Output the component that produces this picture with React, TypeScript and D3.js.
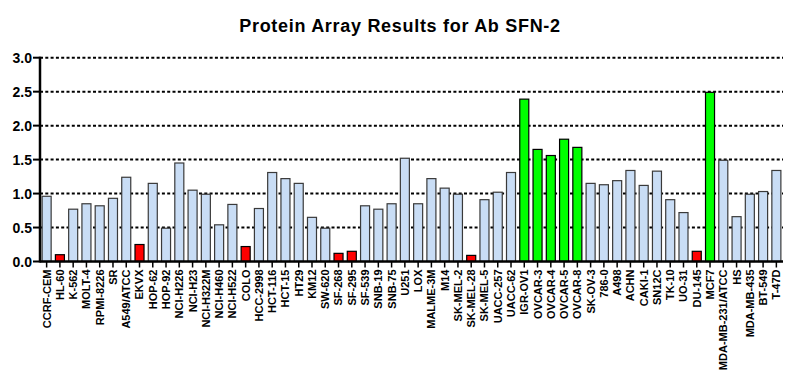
import * as React from "react";
import * as d3 from "d3";

// cell lines, left to right
const cellLines = [
  "CCRF-CEM", "HL-60", "K-562", "MOLT-4", "RPMI-8226", "SR", "A549/ATCC", "EKVX",
  "HOP-62", "HOP-92", "NCI-H226", "NCI-H23", "NCI-H322M", "NCI-H460", "NCI-H522",
  "COLO", "HCC-2998", "HCT-116", "HCT-15", "HT29", "KM12", "SW-620", "SF-268",
  "SF-295", "SF-539", "SNB-19", "SNB-75", "U251", "LOX", "MALME-3M", "M14",
  "SK-MEL-2", "SK-MEL-28", "SK-MEL-5", "UACC-257", "UACC-62", "IGR-OV1", "OVCAR-3",
  "OVCAR-4", "OVCAR-5", "OVCAR-8", "SK-OV-3", "786-0", "A498", "ACHN", "CAKI-1",
  "SN12C", "TK-10", "UO-31", "DU-145", "MCF7", "MDA-MB-231/ATCC", "HS",
  "MDA-MB-435", "BT-549", "T-47D",
];

// values
const results = [
  0.96, 0.10, 0.77, 0.85, 0.82, 0.93, 1.24, 0.25,
  1.15, 0.49, 1.45, 1.05, 0.99, 0.54, 0.84,
  0.22, 0.78, 1.31, 1.22, 1.15, 0.65, 0.49, 0.12,
  0.15, 0.82, 0.77, 0.85, 1.52, 0.85, 1.22, 1.08,
  0.99, 0.09, 0.91, 1.02, 1.31, 2.39, 1.65,
  1.56, 1.80, 1.68, 1.15, 1.13, 1.19, 1.34, 1.12,
  1.33, 0.91, 0.72, 0.15, 2.49, 1.49, 0.66,
  0.99, 1.03, 1.34,
];

// highlighted lines
const highLines = ["IGR-OV1", "OVCAR-3", "OVCAR-4", "OVCAR-5", "OVCAR-8", "MCF7"];
const lowLines = ["HL-60", "EKVX", "COLO", "SF-268", "SF-295", "SK-MEL-28", "DU-145"];

const yTicks = [0, 0.5, 1.0, 1.5, 2.0, 2.5, 3.0];

const title = "Protein Array Results for Ab SFN-2";

export default function App() {
  const W = 800, H = 385;
  const left = 40, right = 783, top = 57.7, bottom = 261.5;

  const x = d3.scaleBand().domain(cellLines).range([left, right]).paddingInner(0.32).paddingOuter(0.16);
  const y = d3.scaleLinear().domain([0, 3]).range([bottom, top]);

  const fillFor = (name: string) =>
    highLines.includes(name) ? "#00ff00" : lowLines.includes(name) ? "#ff0000" : "#c9ddf5";

  const font = "Arial, 'Liberation Sans', sans-serif";

  return (
    <svg width={W} height={H} style={{ position: "absolute", left: 0, top: 0 }} fontFamily={font}>
      <rect width={W} height={H} fill="#fff" />
      <text x={400} y={32} textAnchor="middle" fontWeight="bold" fontSize={18} letterSpacing={0.7}>
        {title}
      </text>

      {/* dashed grid */}
      {yTicks.filter(t => t > 0).map(t => (
        <line key={"g" + t} x1={left} x2={right} y1={y(t)} y2={y(t)}
          stroke="#000" strokeWidth={2} strokeDasharray="3,2.3" />
      ))}

      {/* bars */}
      {cellLines.map((name, i) => (
        <rect key={name} x={x(name)!} y={y(results[i])} width={x.bandwidth()}
          height={bottom - y(results[i])} fill={fillFor(name)}
          stroke={fillFor(name) === "#c9ddf5" ? "#3a3a3a" : "#000"} strokeWidth={1.2} />
      ))}

      {/* y axis */}
      <line x1={left} x2={left} y1={top - 1} y2={bottom + 1} stroke="#000" strokeWidth={2.5} />
      {yTicks.map(t => (
        <g key={"y" + t}>
          <line x1={left - 7} x2={left} y1={y(t)} y2={y(t)} stroke="#000" strokeWidth={2} />
          <text x={left - 8} y={y(t)} dy="0.36em" textAnchor="end" fontWeight="bold" fontSize={14}>
            {d3.format(".1f")(t)}
          </text>
        </g>
      ))}

      {/* x axis */}
      <line x1={left} x2={right} y1={bottom} y2={bottom} stroke="#000" strokeWidth={2.5} />
      {cellLines.map(name => {
        const cx = x(name)! + x.bandwidth() / 2;
        return (
          <g key={"x" + name}>
            <line x1={cx} x2={cx} y1={bottom} y2={bottom + 6} stroke="#000" strokeWidth={1.5} />
            <text transform={`translate(${cx},${bottom + 8}) rotate(-90)`} dy="0.36em"
              textAnchor="end" fontWeight="bold" fontSize={11}>
              {name}
            </text>
          </g>
        );
      })}
    </svg>
  );
}
